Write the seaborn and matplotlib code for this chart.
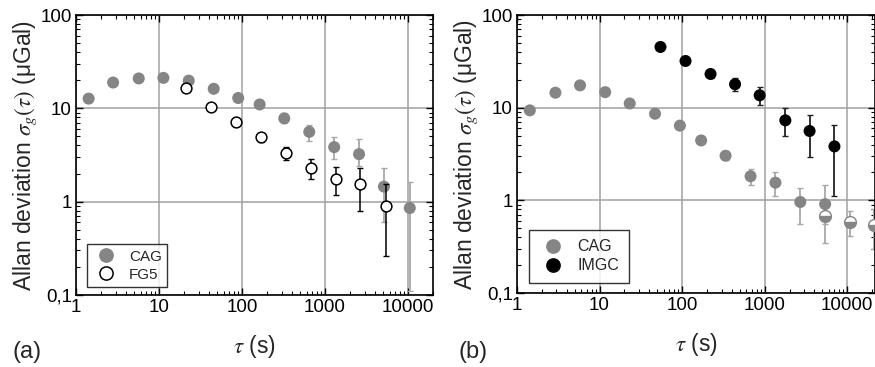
import numpy as np
import pandas as pd
import matplotlib
matplotlib.use("Agg")
import matplotlib.pyplot as plt
import seaborn as sns
from matplotlib.lines import Line2D
from matplotlib.ticker import LogLocator, FixedLocator, FixedFormatter, NullFormatter

# ---- panel (a) data ----
cag_a_tau = [1.42, 2.8, 5.7, 11.3, 22.8, 45.6, 90, 163, 323, 646, 1290, 2570, 5130, 10500]
cag_a_sig = [12.7, 18.9, 20.9, 21.2, 19.8, 16.2, 12.9, 11.0, 7.8, 5.6, 3.84, 3.23, 1.45, 0.855]
cag_a_hi = [12.7, 18.9, 20.9, 21.2, 19.8, 16.2, 12.9, 11.0, 8.9, 6.7, 4.96, 4.72, 2.28, 1.62]
cag_a_lo = [12.7, 18.9, 20.9, 21.2, 19.8, 16.2, 12.9, 11.0, 6.9, 4.5, 2.83, 2.4, 0.61, 0.11]

fg5_tau = [21, 42, 84, 169, 337, 674, 1350, 2660, 5380]
fg5_sig = [16.5, 10.3, 7.13, 4.88, 3.31, 2.28, 1.75, 1.53, 0.906]
fg5_hi = [17.3, 10.8, 7.5, 5.3, 3.9, 2.83, 2.37, 2.28, 1.55]
fg5_lo = [15.7, 9.8, 6.8, 4.4, 2.8, 1.77, 1.19, 0.80, 0.26]

# ---- panel (b) data ----
cag_b_tau = [1.43, 2.92, 5.8, 11.7, 23.2, 47, 94, 170, 336, 675, 1350, 2700, 5400]
cag_b_sig = [9.35, 14.5, 17.4, 14.7, 11.1, 8.6, 6.4, 4.43, 3.03, 1.82, 1.55, 0.96, 0.91]
cag_b_hi = [9.35, 14.5, 17.4, 14.7, 11.1, 8.6, 6.4, 4.8, 3.4, 2.17, 2.0, 1.37, 1.46]
cag_b_lo = [9.35, 14.5, 17.4, 14.7, 11.1, 8.6, 6.4, 4.1, 2.7, 1.48, 1.1, 0.55, 0.55]

half_tau = [5400, 10900, 21000]
half_sig = [0.685, 0.58, 0.54]
half_hi = [0.86, 0.77, 0.8]
half_lo = [0.35, 0.41, 0.3]

imgc_tau = [54.7, 110, 221, 438, 870, 1780, 3500, 7000]
imgc_sig = [45.2, 31.9, 23.1, 17.9, 13.6, 7.3, 5.6, 3.82]
imgc_hi = [45.2, 31.9, 25.0, 20.9, 16.9, 9.8, 8.3, 6.5]
imgc_lo = [45.2, 31.9, 21.0, 15.0, 10.6, 4.9, 2.9, 1.1]

y_ticks = [0.1, 1, 10, 100]
y_labels = ["0,1", "1", "10", "100"]
x_ticks = [1, 10, 100, 1000, 10000]
x_labels = ["1", "10", "100", "1000", "10000"]

sns.set_theme(style="ticks")
plt.rcParams['font.family'] = ['Liberation Sans', 'DejaVu Sans']
plt.rcParams['mathtext.fontset'] = 'stix'

GRAY = "#858585"
EGRAY = "#a8a8a8"

fig = plt.figure(figsize=(8.75, 3.67), dpi=100)
ax_a = fig.add_axes([76 / 875, 1 - 295 / 367, (433 - 76) / 875, 280 / 367])
ax_b = fig.add_axes([517 / 875, 1 - 293 / 367, (875 - 517) / 875, 278 / 367])


def err(sig, lo, hi):
    s = np.array(sig)
    return [s - np.array(lo), np.array(hi) - s]


def style_axes(ax, xmax):
    ax.set_xscale("log")
    ax.set_yscale("log")
    ax.set_xlim(1, xmax)
    ax.set_ylim(0.1, 100)
    ax.grid(True, which="major", color="#a0a0a0", lw=1.1)
    ax.set_axisbelow(True)
    ax.xaxis.set_major_locator(FixedLocator(x_ticks))
    ax.xaxis.set_major_formatter(FixedFormatter(x_labels))
    ax.yaxis.set_major_locator(FixedLocator(y_ticks))
    ax.yaxis.set_major_formatter(FixedFormatter(y_labels))
    ax.xaxis.set_minor_locator(LogLocator(base=10, subs=np.arange(2, 10)))
    ax.yaxis.set_minor_locator(LogLocator(base=10, subs=np.arange(2, 10)))
    ax.xaxis.set_minor_formatter(NullFormatter())
    ax.yaxis.set_minor_formatter(NullFormatter())
    ax.tick_params(which="both", direction="in", top=True, right=True, colors="black",
                   labelsize=13.5, pad=3)
    ax.tick_params(which="major", length=5, width=1)
    ax.tick_params(which="minor", length=3, width=0.8)
    for s in ax.spines.values():
        s.set_color("black")
        s.set_linewidth(1.2)
    ax.set_ylabel(r"Allan deviation $\sigma_g(\tau)$ (μGal)", fontsize=16.5, labelpad=1)
    ax.set_xlabel(r"$\tau$ (s)", fontsize=16.5, labelpad=12)


# panel (a)
ax_a.errorbar(cag_a_tau, cag_a_sig, yerr=err(cag_a_sig, cag_a_lo, cag_a_hi), fmt="none",
              ecolor=EGRAY, elinewidth=1.3, capsize=2.5, zorder=2)
sns.scatterplot(x=cag_a_tau, y=cag_a_sig, ax=ax_a, color=GRAY, s=75, edgecolor="none", zorder=3)
ax_a.errorbar(fg5_tau, fg5_sig, yerr=err(fg5_sig, fg5_lo, fg5_hi), fmt="none",
              ecolor="black", elinewidth=1.1, capsize=2.5, zorder=4)
sns.scatterplot(x=fg5_tau, y=fg5_sig, ax=ax_a, color="white", s=60, edgecolor="black",
                linewidth=1.1, zorder=5)
style_axes(ax_a, 2.0e4)

# panel (b)
ax_b.errorbar(cag_b_tau, cag_b_sig, yerr=err(cag_b_sig, cag_b_lo, cag_b_hi), fmt="none",
              ecolor=EGRAY, elinewidth=1.3, capsize=2.5, zorder=2)
sns.scatterplot(x=cag_b_tau, y=cag_b_sig, ax=ax_b, color=GRAY, s=75, edgecolor="none", zorder=3)
ax_b.errorbar(half_tau, half_sig, yerr=err(half_sig, half_lo, half_hi), fmt="none",
              ecolor=EGRAY, elinewidth=1.3, capsize=2.5, zorder=2)
ax_b.plot(half_tau, half_sig, ls="none", marker="o", ms=8.5, fillstyle="bottom",
          markerfacecolor=GRAY, markerfacecoloralt="white", markeredgecolor=GRAY,
          markeredgewidth=1.0, zorder=3, clip_on=False)
ax_b.errorbar(imgc_tau, imgc_sig, yerr=err(imgc_sig, imgc_lo, imgc_hi), fmt="none",
              ecolor="#222222", elinewidth=1.3, capsize=2.5, zorder=4)
sns.scatterplot(x=imgc_tau, y=imgc_sig, ax=ax_b, color="black", s=75, edgecolor="none", zorder=5)
style_axes(ax_b, 2.17e4)


def legend(ax, entries, loc_xy, fs, bpad):
    handles = [Line2D([], [], ls="none", marker="o", ms=9.5, markerfacecolor=fc,
                      markeredgecolor=ec, markeredgewidth=1.1, label=lab)
               for lab, fc, ec in entries]
    leg = ax.legend(handles=handles, loc="lower left", bbox_to_anchor=loc_xy, frameon=True,
                    fancybox=False, edgecolor="black", fontsize=fs, handletextpad=0.6,
                    borderpad=bpad, labelspacing=0.25, handlelength=1.8, borderaxespad=0)
    leg.get_frame().set_linewidth(1.0)
    leg.set_zorder(10)


legend(ax_a, [("CAG", GRAY, GRAY), ("FG5", "white", "black")], (0.031, 0.029), 11, 0.35)
legend(ax_b, [("CAG", GRAY, GRAY), ("IMGC", "black", "black")], (0.034, 0.036), 11.5, 0.6)

fig.text(13 / 875, 1 - 358 / 367, "(a)", fontsize=17, ha="left", va="baseline")
fig.text(458 / 875, 1 - 358 / 367, "(b)", fontsize=17, ha="left", va="baseline")

fig.savefig("out.png", dpi=100)
